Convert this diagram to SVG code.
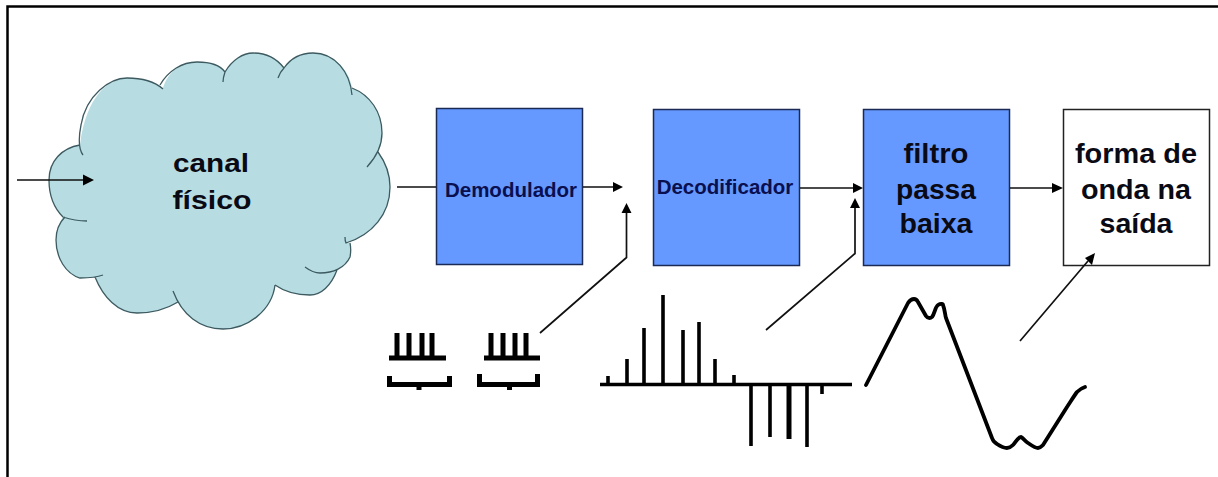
<svg xmlns="http://www.w3.org/2000/svg" width="1218" height="477" viewBox="0 0 1218 477">
<style>
text{font-family:"Liberation Sans",Arial,sans-serif;text-anchor:middle;fill:#0a0a14;font-weight:bold}
.n{fill:#0a0f50}
.s{font-size:27px}
.box{fill:#6699ff;stroke:#1a2a55;stroke-width:1.5}
.c{fill:none;stroke:#111;stroke-width:1.7}
.k{fill:none;stroke:#000}
.a{fill:#000}
</style>
<rect width="1218" height="477" fill="#fff"/>
<path d="M7.500 477V6.500H1218" fill="none" stroke="#000" stroke-width="2.500"/>
<g id="cloud">
<path d="M80 145C86 95 110 78 127 78C142 78 155 82 163 88C168 71 182 62 197 62C210 62 220 65 225 72C232 60 243 53 253 53C266 53 277 59 284 68C291 58 302 53 313 53C335 53 350 72 352 88C370 95 382 112 382 133C382 140 381 146 378 152C386 163 390 175 390 187C390 214 372 235 346 243L350 243C351 248 351 252 350 257C347 263 342 267 337 270C331 286 321 295 310 295C297 295 285 292 275 285C272 310 248 329 223 329C200 329 185 315 178 302C165 310 150 313 137 313C118 313 103 297 95 277C90 278 85 278 80 278C66 274 56 258 56 240C56 231 59 223 63 217C54 208 49 195 49 180C49 161 62 148 80 145Z" fill="#b7dde3"/>
<path fill="none" stroke="#3c5a60" stroke-width="1.300" d="M83 155C78 148 79 135 81 125C86 95 110 78 127 78C142 78 155 82 163 89M160 85C168 71 182 62 197 62C210 62 220 65 225 72C224 75 223 79 223 82M225 72C232 60 243 53 253 53C266 53 277 59 284 68C281 71 279 75 278 78M284 68C291 58 302 53 313 53C335 53 350 72 352 95M352 88C370 95 382 112 382 133C382 145 378 155 367 167M378 152C386 163 390 175 390 187C390 214 372 235 346 243C345 241 345 239 345 237M350 243C351 248 351 252 350 257C345 268 333 273 320 273C314 273 309 270 305 267M337 270C331 286 321 295 310 295C297 295 285 292 275 285M275 285C272 310 248 329 223 329C200 329 182 315 173 291M178 302C165 310 150 313 137 313C118 313 103 297 95 277M103 275C95 278 88 278 80 278C66 274 56 258 56 240C56 231 59 223 65 217M87 221C80 221 72 220 63 217C54 208 49 195 49 180C49 161 62 148 80 145"/>
<text x="211" y="172" font-size="26" textLength="76" lengthAdjust="spacingAndGlyphs">canal</text>
<text x="212" y="209" font-size="26" textLength="79" lengthAdjust="spacingAndGlyphs">físico</text>
</g>
<g id="demodulador"><rect class="box" x="436.500" y="108.500" width="146" height="156"/><text class="n" x="511" y="197" font-size="20.500">Demodulador</text></g>
<g id="decodificador"><rect class="box" x="653.500" y="109.500" width="146" height="156"/><text class="n" x="725" y="194" font-size="20.500">Decodificador</text></g>
<g id="filtro"><rect class="box" x="863.500" y="109.500" width="146" height="156"/><text class="s" x="936" y="163" textLength="65" lengthAdjust="spacingAndGlyphs">filtro</text><text class="s" x="936" y="199" textLength="80" lengthAdjust="spacingAndGlyphs">passa</text><text class="s" x="936" y="233" textLength="73" lengthAdjust="spacingAndGlyphs">baixa</text></g>
<g id="saida"><rect x="1063.500" y="109.500" width="146" height="156" fill="#fff" stroke="#222" stroke-width="1.500"/><text class="s" x="1136" y="163" textLength="122" lengthAdjust="spacingAndGlyphs">forma de</text><text class="s" x="1136" y="199" textLength="110" lengthAdjust="spacingAndGlyphs">onda na</text><text class="s" x="1136" y="233" textLength="73" lengthAdjust="spacingAndGlyphs">saída</text></g>
<g id="connectors">
<path class="c" d="M17 180H85M397 187H436M583 187H614M540 333L626.500 257.500V212M800 188H854M766 330L855 253.500V208M1010 188H1054M1020 341L1088 261"/>
<path class="a" d="M83 174.500L94 180L83 185.500ZM613 182L623 187L613 192ZM621.500 213L626.500 203L631.500 213ZM853 183L863 188L853 193ZM850 208L855 198L860 208ZM1052 183L1063 188L1052 193ZM1085 258L1095 253L1092 265Z"/>
</g>
<g id="pulsos">
<path class="k" stroke-width="5" d="M397 333V358M409 333V358M422 333V358M432 333V358M491 333V358M503 333V358M515 333V358M526 333V358"/>
<path class="k" stroke-width="5" d="M389 358H446M484 358H540M389.500 376V384.500H449.500V376M479.500 374V384.500H537.500V374"/>
<path class="k" stroke-width="5" d="M419 385V390M509.500 385V390"/>
<path class="k" stroke-width="3.600" d="M600 384.500H852M608 384V376M627 384V359M644 384V328M663 384V295M683 384V330M699 384V322M715 384V359M734 384V375M751 384V446M770 384V437M807 384V447M822 384V394"/>
<path class="k" stroke-width="5" d="M789 384V439"/>
<path class="k" stroke-width="3.800" stroke-linejoin="round" stroke-linecap="round" d="M866 385L908 303C910 300 912 299 914 299C916 299 917 300 918 302L926 316C928 319 931 318 932 317C935 313 935 307 938 305C941 303 943 304 943 305C945 310 945 315 946 318L992 438C993 441 995 443 997 444C1000 446 1004 448 1007 448C1010 448 1011 447 1013 445C1016 442 1018 437 1021 437C1023 438 1025 441 1028 443C1031 445 1035 448 1038 448C1040 448 1041 447 1043 445L1067 407C1071 401 1074 396 1077 392C1079 390 1082 388 1085 387"/>
</g>
</svg>
